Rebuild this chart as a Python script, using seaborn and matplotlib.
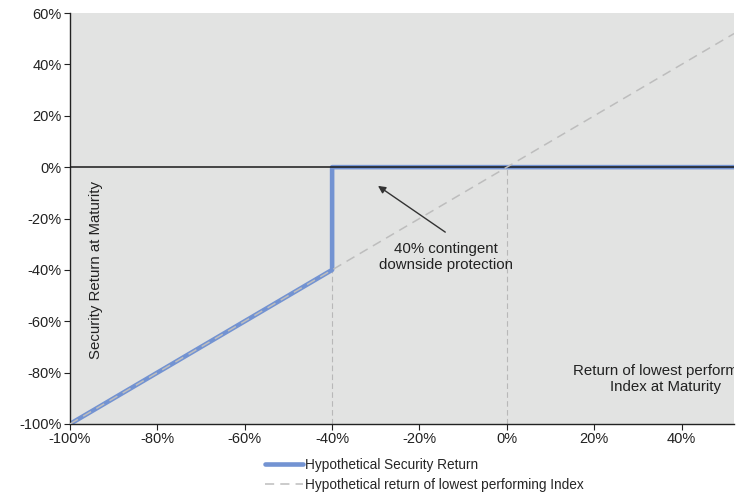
import numpy as np
import pandas as pd
import matplotlib
matplotlib.use('Agg')
import matplotlib.pyplot as plt
import seaborn as sns

# Payoff data (in %)
security_x = [-100, -40, -40, 52]
security_y = [-100, -40, 0, 0]
index_x = [-100, 52]
index_y = [-100, 52]
barrier_levels = [-40, 0]
x_ticks = [-100, -80, -60, -40, -20, 0, 20, 40]
y_ticks = [-100, -80, -60, -40, -20, 0, 20, 40, 60]

sns.set_style('white')
plt.rcParams['font.family'] = ['Liberation Sans', 'DejaVu Sans']

fig = plt.figure(figsize=(7.46, 4.97), dpi=100)
ax = fig.add_axes([0.0938, 0.1469, 0.8902, 0.8269])
ax.set_facecolor('#e2e3e2')

# guide lines
ax.vlines(barrier_levels, -100, 0, colors='#b8b8b8', linestyles=(0, (5, 3)), linewidth=0.8, zorder=2)
ax.axhline(0, color='#1a1a1a', linewidth=1.1, zorder=3)

sns.lineplot(x=security_x, y=security_y, sort=False, estimator=None, ax=ax,
             color='#7393d2', linewidth=3.3, label='Hypothetical Security Return', zorder=2.5)
sns.lineplot(x=index_x, y=index_y, sort=False, estimator=None, ax=ax,
             color='#bdbdbd', linewidth=1.1, linestyle=(0, (6, 4)),
             label='Hypothetical return of lowest performing Index', zorder=4)

ax.set_xlim(-100, 52)
ax.set_ylim(-100, 60)
ax.set_xticks(x_ticks)
ax.set_yticks(y_ticks)
ax.set_xticklabels([f'{t}%' for t in x_ticks])
ax.set_yticklabels([f'{t}%' for t in y_ticks])
ax.tick_params(axis='both', direction='out', length=4, width=0.8, colors='#222222',
               labelsize=10.5, pad=2, left=True, bottom=True)
for s in ['top', 'right']:
    ax.spines[s].set_visible(False)
for s in ['left', 'bottom']:
    ax.spines[s].set_color('#222222')
    ax.spines[s].set_linewidth(1.0)

# axis titles inside the plot (the x one is clipped at the right edge, as in the source)
ax.text(-94, -40, 'Security Return at Maturity', rotation=90, ha='center', va='center',
        fontsize=10.8, color='#222222')
ax.text(36.3, -82.5, 'Return of lowest performing\nIndex at Maturity', ha='center', va='center',
        fontsize=10.8, color='#222222', clip_on=True, linespacing=1.2)

# annotation
ax.annotate('', xy=(-29.5, -7.3), xytext=(-14.1, -25.3),
            arrowprops=dict(arrowstyle='-|>', color='#333333', lw=1.0,
                            shrinkA=0, shrinkB=0, mutation_scale=11))
ax.text(-14, -35, '40% contingent\ndownside protection', ha='center', va='center',
        fontsize=10.8, color='#222222', linespacing=1.2)

ax.get_legend().remove()
h, l = ax.get_legend_handles_labels()
fig.legend(h, l, loc='upper left', bbox_to_anchor=(0.355, 0.078), frameon=False,
           fontsize=9.8, handlelength=2.8, handletextpad=0.12, labelspacing=0.42,
           borderpad=0, borderaxespad=0)

fig.savefig('out.png', dpi=100)
